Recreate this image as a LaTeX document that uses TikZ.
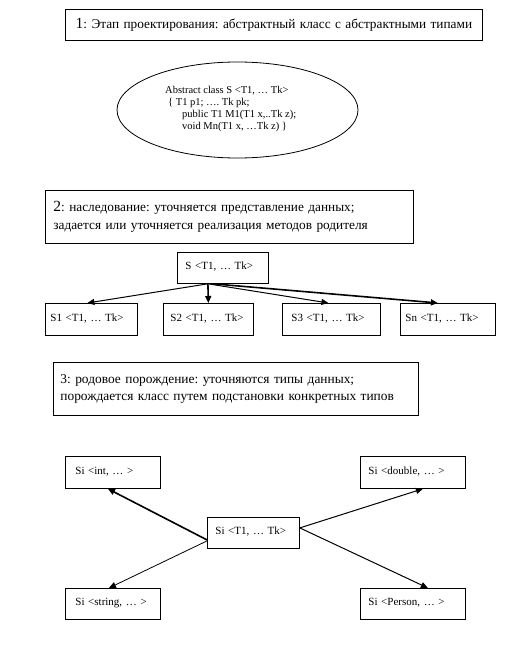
\documentclass[tikz,border=0pt]{standalone}
\usepackage{fontspec}
\setmainfont{Liberation Serif}
\usetikzlibrary{arrows.meta,shapes.geometric}
\frenchspacing
\begin{document}
\begin{tikzpicture}[x=1pt,y=-1pt,
  frame/.style={draw, line width=0.8pt, anchor=north west, inner ysep=0pt, inner xsep=6pt, align=left},
  small/.style={frame, font=\fontsize{11}{13}\selectfont, text depth=4pt},
  arr/.style={-{Triangle[length=7pt,width=6pt]}, line width=1pt},
  thickarr/.style={arr, line width=1.6pt}
]
\useasboundingbox (0,0) rectangle (528,650);
% box 1
\node[frame, minimum width=417pt, minimum height=31pt, text width=405pt, align=center, font=\fontsize{13.3}{15}\selectfont] (t1) at (65,9) {{\fontsize{15.5}{15}\selectfont 1}: Этап проектирования: абстрактный класс с абстрактными типами};
% ellipse
\node[draw, ellipse, line width=0.8pt, minimum width=241pt, minimum height=96pt] (abs) at (237.5,110) {};
\node[align=left, anchor=west, font=\fontsize{10.5}{12}\selectfont, inner sep=0pt] (abstxt) at (165,109) {Abstract class S <T1, … Tk>\\\hspace*{3pt}\{ T1 p1; …. Tk pk;\\\hspace*{17pt}public T1 M1(T1 x,..Tk z);\\\hspace*{17pt}void Mn(T1 x, …Tk z) \}};
% box 2
\node[frame, inner xsep=8pt, text width=352pt, minimum height=53pt, font=\fontsize{13.3}{18}\selectfont] (t2) at (45,190) {{\fontsize{15.5}{18}\selectfont 2}: наследование: уточняется представление данных;\\задается или уточняется реализация методов родителя};
% inheritance
\node[small, minimum height=31pt, inner xsep=8pt, text width=75pt] (S) at (177,252) {S <T1, … Tk>};
\node[small, minimum height=32pt, inner xsep=5pt, text width=82pt] (S1) at (45,303) {S1 <T1, … Tk>};
\node[small, minimum height=32pt, inner xsep=7pt, text width=76pt] (S2) at (163,303) {S2 <T1, … Tk>};
\node[small, minimum height=32pt, inner xsep=9pt, text width=80pt] (S3) at (282,303) {S3 <T1, … Tk>};
\node[small, minimum height=32pt, inner xsep=5pt, text width=85pt] (Sn) at (400,303) {Sn <T1, … Tk>};
\draw[arr] ([xshift=-15pt]S.south) -- ([xshift=-4pt]S1.north);
\draw[thickarr] ([xshift=-15pt]S.south) -- (S2.north);
\draw[arr] ([xshift=-15pt]S.south) -- ([xshift=-3pt]S3.north);
\draw[thickarr] ([xshift=-10pt]S.south) -- ([xshift=-10pt]Sn.north);
% box 3
\node[frame, inner xsep=7pt, text width=351pt, minimum height=53pt, font=\fontsize{13.4}{17}\selectfont] (t3) at (53,362) {3: родовое порождение: уточняются типы данных;\\порождается класс путем подстановки конкретных типов};
% generic
\node[small, minimum height=32pt, inner xsep=10pt, text width=75pt] (int) at (65,456) {Si <int, … >};
\node[small, minimum height=32pt, inner xsep=8pt, text width=89pt] (double) at (360,456) {Si <double, … >};
\node[small, minimum height=31pt, inner xsep=8pt, text width=76pt] (C) at (207,517) {Si <T1, … Tk>};
\node[small, minimum height=31pt, inner xsep=10pt, text width=75pt] (string) at (65,588) {Si <string, … >};
\node[small, minimum height=31pt, inner xsep=8pt, text width=89pt] (Person) at (360,588) {Si <Person, … >};
\draw[thickarr] ([yshift=-7pt]C.west) -- ([xshift=-5pt]int.south);
\draw[arr] ([yshift=5pt]C.east) -- ([xshift=10pt]double.south);
\draw[arr, line width=0.8pt] ([yshift=-8pt]C.west) -- ([xshift=-4pt]string.north);
\draw[arr] ([yshift=5pt]C.east) -- ([xshift=15pt]Person.north);
\end{tikzpicture}
\end{document}
